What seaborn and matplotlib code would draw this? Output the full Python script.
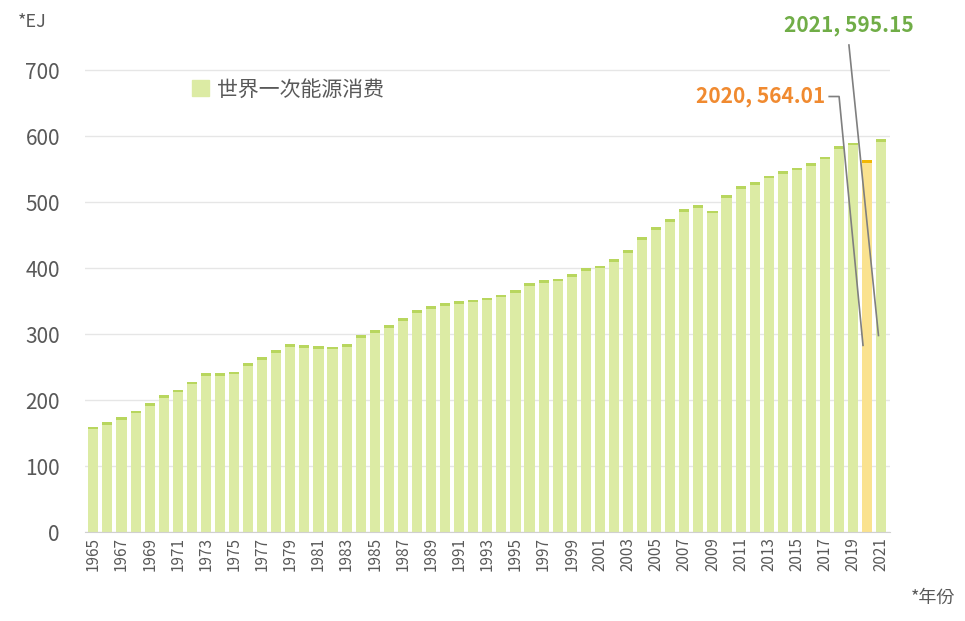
import matplotlib
matplotlib.use("Agg")
import matplotlib.pyplot as plt
import matplotlib.patches as mpatches
import pandas as pd
import seaborn as sns

CJK = ["Noto Sans CJK SC", "Noto Sans CJK JP", "Noto Sans CJK TC",
       "Noto Sans CJK KR", "DejaVu Sans"]
plt.rcParams["font.family"] = CJK

years = [str(y) for y in range(1965, 2022)]
consumption = [160, 167, 174, 184, 195, 208, 216, 228, 241, 241,
               243, 256, 265, 276, 285, 283, 282, 281, 285, 298,
               306, 314, 324, 336, 342, 347, 350, 352, 355, 360,
               367, 377, 382, 384, 391, 400, 404, 414, 427, 447,
               462, 474, 489, 495, 487, 511, 524, 530, 540, 547,
               552, 559, 569, 585, 590, 564.01, 595.15]
tick_labels = years[::2]

df = pd.DataFrame({"year": years, "value": consumption})
df["body"] = df["value"] - 4
cap_colors = ["#b8d65e" if y != "2020" else "#f2b705" for y in years]
body_colors = ["#dcebA4" if y != "2020" else "#fae28f" for y in years]

fig = plt.figure(figsize=(9.65, 6.21), dpi=100)
ax = fig.add_axes([0.088, 0.143, 0.834, 0.776])

sns.barplot(data=df, x="year", y="value", hue="year", palette=cap_colors,
            legend=False, width=0.72, ax=ax, saturation=1)
sns.barplot(data=df, x="year", y="body", hue="year", palette=body_colors,
            legend=False, width=0.72, ax=ax, saturation=1)

ax.set_ylim(0, 730)
ax.set_xlim(-0.6, len(years) - 0.4)
ax.set_yticks(range(0, 701, 100))
ax.yaxis.grid(True, color="#e6e6e6", linewidth=1)
ax.set_axisbelow(True)
for s in ["top", "right", "left"]:
    ax.spines[s].set_visible(False)
ax.spines["bottom"].set_color("#d0d0d0")
ax.set_xticks(range(0, len(years), 2))
ax.set_xticklabels(tick_labels, rotation=90, fontsize=11, color="#595959")
ax.tick_params(axis="y", labelsize=15, colors="#595959", length=0, pad=18)
ax.tick_params(axis="x", length=0)
ax.set_xlabel("")
ax.set_ylabel("")

handle = mpatches.Patch(color="#dcebA4", label="世界一次能源消费")
ax.legend(handles=[handle], loc="upper left", bbox_to_anchor=(0.11, 0.98),
          frameon=False, prop={"family": CJK, "size": 15}, labelcolor="#595959",
          handlelength=0.8, handleheight=0.8, handletextpad=0.4)

# annotations
ax.plot([52.3, 53.0, 54.7], [660, 660, 283], color="#7f7f7f", lw=1.2, clip_on=False)
ax.text(52.0, 660, "2020, 564.01", ha="right", va="center", color="#f08a30",
        fontsize=15, fontweight="bold")
ax.plot([53.7, 55.8], [738, 298], color="#7f7f7f", lw=1.2, clip_on=False)
ax.text(53.7, 752, "2021, 595.15", ha="center", va="bottom", color="#70ad47",
        fontsize=15, fontweight="bold")

fig.text(0.018, 0.965, "*EJ", fontsize=13, style="italic", color="#595959",
         va="center")
fig.text(0.99, 0.038, "*年份", fontsize=13, style="italic", color="#595959",
         ha="right", va="center", family=CJK)

fig.savefig("out.png", dpi=100)
